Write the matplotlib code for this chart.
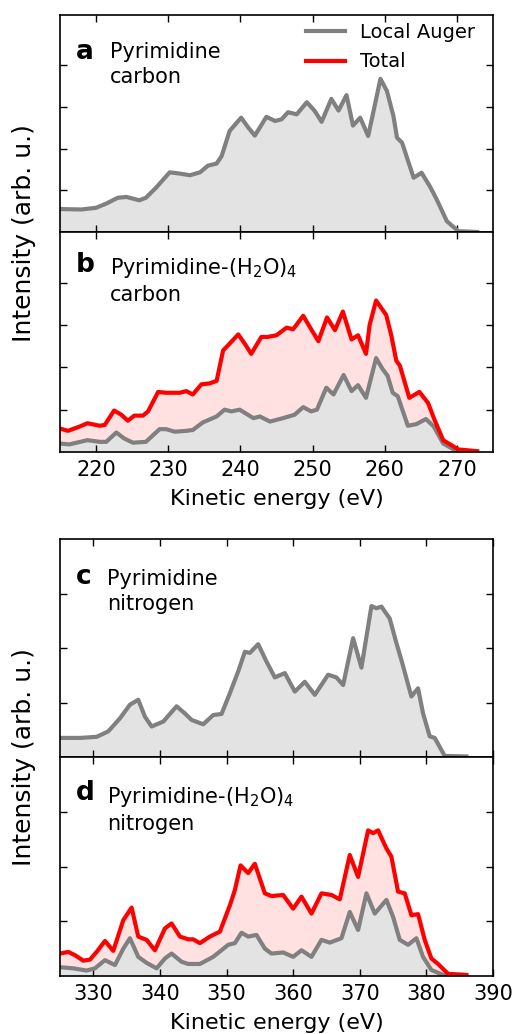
import matplotlib.pyplot as plt

# Panel a: pyrimidine carbon, local Auger
a_x = [214.9, 218, 220, 221.4, 223, 224.2, 226, 226.9, 228.3, 230.2, 231.6, 233, 234.4, 235.5,
       236.7, 237.4, 238.5, 240.1, 241.1, 242, 243.6, 244.8, 245.7, 246.6, 247.8, 249.2, 250.3,
       251.25, 252.6, 253.6, 254.7, 255.6, 256.6, 257.7, 258.4, 259.4, 260.3, 261.2, 261.7,
       262.4, 264, 265.1, 266.3, 267.2, 268.6, 270.2, 272.8]
a_gray = [0.55, 0.54, 0.58, 0.68, 0.82, 0.84, 0.76, 0.82, 1.06, 1.43, 1.40, 1.36, 1.43, 1.59,
          1.64, 1.82, 2.42, 2.74, 2.50, 2.31, 2.76, 2.66, 2.70, 2.87, 2.82, 3.11, 2.90,
          2.64, 3.19, 2.91, 3.28, 2.55, 2.74, 2.30, 2.86, 3.67, 3.38, 2.78, 2.26,
          2.14, 1.30, 1.42, 1.08, 0.78, 0.26, 0.02, 0.0]

# Panel b: pyrimidine-(H2O)4 carbon
b_tot_x = [214.9, 216.1, 217.7, 218.8, 220.5, 221.2, 222.5, 223.5, 224.4, 225.3, 226.5, 227.2,
           228.6, 229.7, 231.6, 232.5, 233.4, 234.6, 235.7, 236.7, 237.6, 238.5, 239.7, 240.6,
           241.5, 242.9, 243.8, 245, 246.4, 247.3, 248.7, 249.6, 250.8, 252, 253.1, 254.2,
           255.4, 256.3, 257.4, 257.9, 258.8, 260.2, 260.9, 261.6, 262.1, 263.4, 264.8, 266,
           266.9, 268.1, 270.2, 272.8]
b_tot = [0.56, 0.50, 0.60, 0.68, 0.62, 0.64, 0.98, 0.88, 0.74, 0.86, 0.86, 0.96,
         1.42, 1.40, 1.40, 1.44, 1.36, 1.60, 1.62, 1.68, 2.40, 2.56, 2.78, 2.56,
         2.32, 2.72, 2.72, 2.76, 2.94, 2.90, 3.22, 2.96, 2.62, 3.18, 2.88, 3.32,
         2.66, 2.76, 2.32, 3.00, 3.58, 3.24, 2.76, 2.16, 2.04, 1.28, 1.42, 1.16,
         0.76, 0.28, 0.06, 0.02]
b_gray_x = [214.9, 216.3, 218.8, 220.5, 221.4, 222.8, 223.9, 225.1, 226.9, 228.8, 229.7, 230.9,
            232.5, 233.4, 234.8, 236.7, 237.8, 238.75, 239.9, 241.8, 242.7, 244.1, 245.9,
            247.5, 248.7, 249.8, 250.6, 251.9, 252.9, 254.3, 255.4, 256.3, 257.4, 258.8,
            259.7, 260.4, 261.1, 261.8, 263.2, 264.4, 265.7, 266.8, 268.1, 270, 272.8]
b_gray = [0.20, 0.18, 0.28, 0.24, 0.24, 0.46, 0.32, 0.22, 0.24, 0.54, 0.54, 0.48,
          0.50, 0.52, 0.70, 0.84, 1.00, 0.96, 1.00, 0.80, 0.84, 0.72, 0.80,
          0.88, 1.06, 0.96, 1.00, 1.52, 1.36, 1.82, 1.44, 1.58, 1.28, 2.22,
          1.96, 1.80, 1.40, 1.32, 0.62, 0.66, 0.78, 0.60, 0.20, 0.02, 0.0]

# Panel c: pyrimidine nitrogen, local Auger
c_x = [325, 328, 330.5, 332.25, 334, 335.5, 336.75, 337.75, 338.75, 340.5, 342.5, 343.75,
       344.75, 346.5, 348, 349.25, 350.5, 351.75, 352.75, 353.5, 354.75, 356, 357.25, 358.75,
       360.25, 361.75, 363.25, 365.25, 366.5, 367.5, 369, 370.25, 371.75, 372.5, 373.25,
       374.5, 375.5, 376.25, 377.75, 378.75, 379.5, 380.5, 381.25, 382.75, 386]
c_gray = [0.35, 0.35, 0.37, 0.47, 0.71, 0.96, 1.05, 0.74, 0.56, 0.65, 0.93, 0.80,
          0.68, 0.60, 0.77, 0.79, 1.17, 1.57, 1.93, 1.91, 2.07, 1.75, 1.46, 1.54,
          1.20, 1.38, 1.14, 1.51, 1.46, 1.32, 2.18, 1.64, 2.77, 2.73, 2.76,
          2.54, 2.09, 1.78, 1.11, 1.26, 0.80, 0.38, 0.35, 0.02, 0.01]

# Panel d: pyrimidine-(H2O)4 nitrogen
d_tot_x = [325, 326.25, 327.25, 328.5, 329.5, 330.5, 331.75, 333, 334.5, 335.75, 336.75, 338,
           339.25, 340.75, 341.75, 343, 344.25, 345, 346, 347.5, 349, 350.5, 351.25, 352.1,
           353.25, 354.25, 355.75, 356.75, 358.5, 360, 361.25, 362.75, 364.25, 365.75, 367,
           368.5, 369.75, 371.25, 372, 372.75, 374, 374.75, 375.75, 376.75, 377.75, 378.75,
           379.75, 380.75, 381.75, 383.25, 386]
d_tot = [0.41, 0.44, 0.38, 0.28, 0.30, 0.44, 0.64, 0.46, 1.02, 1.25, 0.72, 0.66,
         0.47, 0.87, 0.96, 0.72, 0.67, 0.67, 0.60, 0.72, 0.81, 1.29, 1.57, 2.02,
         1.88, 2.05, 1.51, 1.46, 1.48, 1.23, 1.45, 1.14, 1.51, 1.48, 1.40,
         2.21, 1.81, 2.66, 2.61, 2.66, 2.33, 2.18, 1.54, 1.51, 1.11, 1.13,
         0.66, 0.32, 0.22, 0.04, 0.02]
d_gray_x = [325, 327, 329, 330.25, 331.75, 333.25, 334.5, 335.5, 336.75, 338, 339.5, 340.75,
            341.75, 343.25, 344.25, 346, 348, 350.25, 351.25, 352.25, 353.25, 354.5, 355.75,
            356.75, 358.5, 360, 361.25, 362.75, 364.25, 365.5, 367.25, 368.5, 369.75, 371,
            372.25, 374, 375, 376, 377.25, 378.5, 379.5, 380.75, 382.5, 384, 386]
d_gray = [0.16, 0.14, 0.10, 0.14, 0.29, 0.20, 0.50, 0.69, 0.35, 0.24, 0.14, 0.32,
          0.41, 0.26, 0.22, 0.22, 0.35, 0.57, 0.60, 0.79, 0.72, 0.75, 0.50,
          0.41, 0.43, 0.35, 0.47, 0.35, 0.66, 0.61, 0.69, 1.17, 0.84, 1.51,
          1.14, 1.39, 1.08, 0.66, 0.57, 0.69, 0.35, 0.11, 0.02, 0.0, 0.0]

GRAY = '#808080'
RED = '#ff0000'
GRAY_FILL = '#e3e3e3'
PINK_FILL = '#ffe1e1'

fig = plt.figure(figsize=(5.14, 10.34), dpi=100)

L, W = 60 / 514, 433 / 514
def box(top_px, bot_px):
    return [L, 1 - bot_px / 1034, W, (bot_px - top_px) / 1034]

ax_a = fig.add_axes(box(15, 232))
ax_b = fig.add_axes(box(232, 452))
ax_c = fig.add_axes(box(539, 757))
ax_d = fig.add_axes(box(757, 976))

def style(ax, xlim, xticks, ymax, yticks, labels):
    ax.set_xlim(*xlim)
    ax.set_ylim(0, ymax)
    ax.set_xticks(xticks)
    ax.set_yticks(yticks)
    ax.tick_params(direction='in', top=True, right=True, length=5, width=1,
                   labelsize=15, pad=6, labelleft=False, labelbottom=labels)
    for s in ax.spines.values():
        s.set_linewidth(1.2)

def draw(ax, gx, gy, tx=None, ty=None):
    if tx is not None:
        ax.fill_between(tx, 0, ty, color=PINK_FILL, lw=0)
    ax.fill_between(gx, 0, gy, color=GRAY_FILL, lw=0)
    ax.plot(gx, gy, color=GRAY, lw=3, solid_joinstyle='round', label='Local Auger')
    if tx is not None:
        ax.plot(tx, ty, color=RED, lw=3, solid_joinstyle='round', label='Total')

draw(ax_a, a_x, a_gray)
draw(ax_b, b_gray_x, b_gray, b_tot_x, b_tot)
draw(ax_c, c_x, c_gray)
draw(ax_d, d_gray_x, d_gray, d_tot_x, d_tot)

cx = [220, 230, 240, 250, 260, 270]
nx = [330, 340, 350, 360, 370, 380, 390]
style(ax_a, (215, 275), cx, 5.2, [1, 2, 3, 4], False)
style(ax_b, (215, 275), cx, 5.2, [1, 2, 3, 4], True)
style(ax_c, (325, 390), nx, 4.0, [1, 2, 3], False)
style(ax_d, (325, 390), nx, 4.0, [1, 2, 3], True)

# legend in panel a
ax_a.plot([], [], color=RED, lw=3, label='Total')
ax_a.legend(loc='upper right', bbox_to_anchor=(1 - 10 / 433, 1.0), frameon=False,
            fontsize=14, handlelength=2.0, borderaxespad=0.0, labelspacing=0.55,
            handletextpad=0.8)

# panel annotations
for ax, letter, ly, label, lx, ty in [
        (ax_a, 'a', 0.83, 'Pyrimidine\ncarbon', 0.115, 0.875),
        (ax_b, 'b', 0.85, 'Pyrimidine-(H$_2$O)$_4$\ncarbon', 0.115, 0.89),
        (ax_c, 'c', 0.826, 'Pyrimidine\nnitrogen', 0.109, 0.862),
        (ax_d, 'd', 0.836, 'Pyrimidine-(H$_2$O)$_4$\nnitrogen', 0.109, 0.872)]:
    ax.text(0.037, ly, letter, transform=ax.transAxes, fontsize=19,
            fontweight='bold', va='center', ha='left')
    ax.text(lx, ty, label, transform=ax.transAxes, fontsize=15,
            va='top', ha='left', linespacing=1.28)

ax_b.set_xlabel('Kinetic energy (eV)', fontsize=16, labelpad=6)
ax_d.set_xlabel('Kinetic energy (eV)', fontsize=16, labelpad=6)
fig.text(24 / 514, 1 - 233 / 1034, 'Intensity (arb. u.)', rotation=90,
         fontsize=18, ha='center', va='center')
fig.text(24 / 514, 1 - 757 / 1034, 'Intensity (arb. u.)', rotation=90,
         fontsize=18, ha='center', va='center')

fig.savefig('out.png', dpi=100)
